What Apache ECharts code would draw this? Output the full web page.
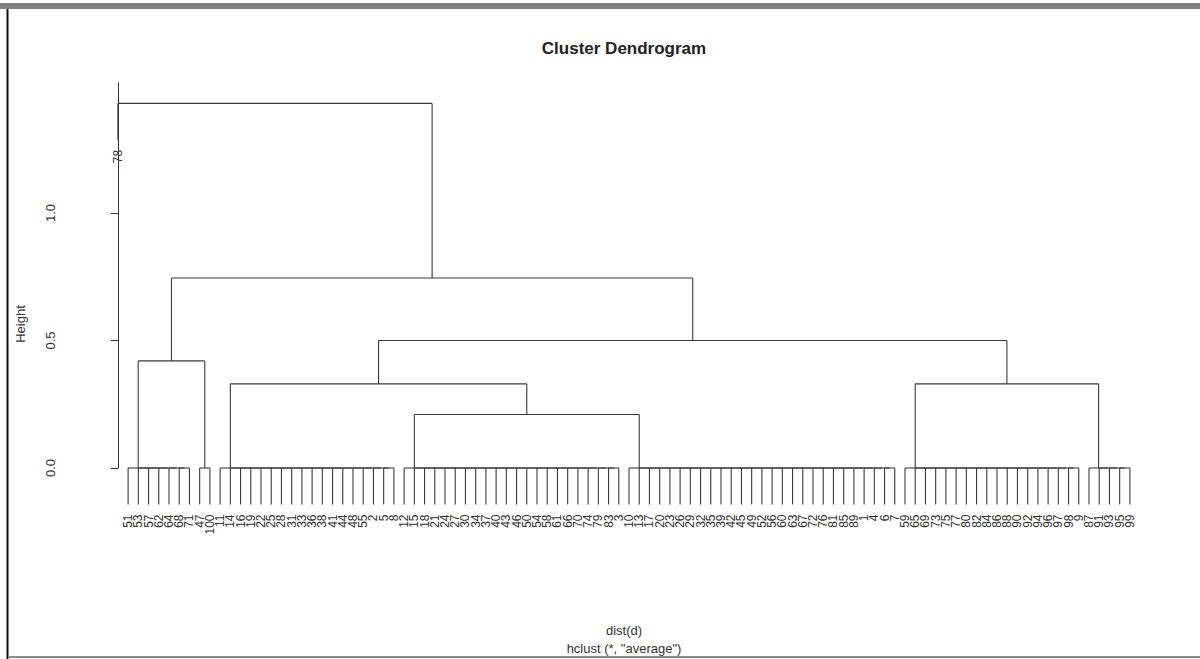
<!DOCTYPE html>
<html><head><meta charset="utf-8">
<script src="https://cdn.jsdelivr.net/npm/echarts@6/dist/echarts.min.js"></script>
<style>html,body{margin:0;padding:0;background:#fff}#c{width:1200px;height:659px}</style>
</head><body><div id="c"></div>
<script>
// Leaf labels in plotted order, grouped by the zero-height clusters
const singleLeaf = ["78"];
const clusterA = ["51","53","57","62","64","68","71"];
const clusterB = ["47","100"];
const clusterC = ["11","14","16","19","22","25","28","31","33","36","38","41","44","48","55","2","5","8"];
const clusterD = ["12","15","18","21","24","27","30","34","37","40","43","46","50","54","58","61","66","70","74","79","83","3"];
const clusterE = ["10","13","17","20","23","26","29","32","35","39","42","45","49","52","56","60","63","67","72","76","81","85","89","1","4","6","7"];
const clusterF = ["59","65","69","73","75","77","80","82","84","86","88","90","92","94","96","97","98","9"];
const clusterG = ["87","91","93","95","99"];
const leafGroups = [singleLeaf, clusterA, clusterB, clusterC, clusterD, clusterE, clusterF, clusterG];
// Upper merges (numbers = group index, "mK" = result of merge K) and their heights
const mergeLeft   = [1, 4, 3, 6, "m2", "m0", 0];
const mergeRight  = [2, 5, "m1", 7, "m3", "m4", "m5"];
const mergeHeight = [0.42, 0.21, 0.33, 0.33, 0.50, 0.745, 1.43];
const yTickValues = [0, 0.5, 1.0];

const FONT = '"Liberation Sans", Arial, sans-serif';
const hang = 0.1 * Math.max(...mergeHeight);
const segments = [];
const labelPts = [];
const groupNodes = [];
let idx = 0;
leafGroups.forEach(g => {
  const start = idx, n = g.length;
  if (n === 1) {
    groupNodes.push({x: start, leaf: true, label: g[0]});
  } else {
    let p = start + n - 1;
    for (let i = n - 2; i >= 0; i--) {
      segments.push([start + i, 0, p, 0]);
      p = (start + i + p) / 2;
    }
    g.forEach((lab, k) => {
      segments.push([start + k, 0, start + k, -hang]);
      labelPts.push([start + k, -hang, lab]);
    });
    groupNodes.push({x: p, h: 0});
  }
  idx += n;
});
const mergeNodes = [];
function getNode(ref) { return typeof ref === 'number' ? groupNodes[ref] : mergeNodes[+ref.slice(1)]; }
mergeHeight.forEach((h, k) => {
  const L = getNode(mergeLeft[k]), R = getNode(mergeRight[k]);
  segments.push([L.x, h, R.x, h]);
  [L, R].forEach(c => {
    const bottom = c.leaf ? h - hang : c.h;
    segments.push([c.x, h, c.x, bottom]);
    if (c.leaf) labelPts.push([c.x, bottom, c.label]);
  });
  mergeNodes.push({x: (L.x + R.x) / 2, h: h});
});

const chart = echarts.init(document.getElementById('c'), null, {renderer: 'svg'});
chart.setOption({
  backgroundColor: '#fff',
  animation: false,
  grid: {left: 77, right: 19, top: 83, bottom: 191, outerBoundsMode: 'none'},
  xAxis: {type: 'value', min: -4, max: 104, show: false},
  yAxis: {
    type: 'value', min: 0, max: 1.51, interval: 0.5,
    axisLine: {show: true, lineStyle: {color: '#333', width: 1}},
    axisTick: {show: true, length: 7, customValues: yTickValues, lineStyle: {color: '#333'}},
    axisLabel: {customValues: yTickValues, rotate: 90, margin: 20, fontSize: 13, color: '#333', fontFamily: FONT,
      formatter: v => (v > 1.2 ? '' : v.toFixed(1))},
    splitLine: {show: false}
  },
  series: [
    {
      type: 'custom', coordinateSystem: 'cartesian2d', clip: false, silent: true,
      encode: {x: [0, 2], y: [1, 3]},
      data: segments,
      renderItem: (params, api) => {
        const a = api.coord([api.value(0), api.value(1)]);
        const b = api.coord([api.value(2), api.value(3)]);
        return {type: 'line', shape: {x1: a[0], y1: a[1], x2: b[0], y2: b[1]},
          style: {stroke: '#3a3a3a', lineWidth: 1.1}};
      }
    },
    {
      type: 'custom', coordinateSystem: 'cartesian2d', clip: false, silent: true,
      encode: {x: 0, y: 1},
      data: labelPts,
      renderItem: (params, api) => {
        const p = api.coord([api.value(0), api.value(1)]);
        const lab = labelPts[params.dataIndex][2];
        return {type: 'text', x: p[0], y: p[1] + 10, rotation: Math.PI / 2,
          style: {text: lab, align: 'right', verticalAlign: 'middle', textAlign: 'right', textVerticalAlign: 'middle',
            fontSize: 12, fontFamily: FONT, fill: '#333'}};
      }
    }
  ],
  graphic: [
    {type: 'rect', shape: {x: 0, y: 3, width: 1200, height: 6}, style: {fill: '#808080'}},
    {type: 'line', shape: {x1: 7.5, y1: 9, x2: 7.5, y2: 659}, style: {stroke: '#111', lineWidth: 2}},
    {type: 'line', shape: {x1: 8, y1: 657, x2: 1200, y2: 657}, style: {stroke: '#8a8a8a', lineWidth: 2}},
    {type: 'text', x: 624, y: 48, style: {text: 'Cluster Dendrogram', font: 'bold 17px ' + FONT, fill: '#222',
      align: 'center', verticalAlign: 'middle', textAlign: 'center', textVerticalAlign: 'middle'}},
    {type: 'text', x: 20, y: 324, rotation: Math.PI / 2, style: {text: 'Height', font: '13px ' + FONT, fill: '#333',
      align: 'center', verticalAlign: 'middle', textAlign: 'center', textVerticalAlign: 'middle'}},
    {type: 'text', x: 624, y: 630, style: {text: 'dist(d)', font: '13px ' + FONT, fill: '#333',
      align: 'center', verticalAlign: 'middle', textAlign: 'center', textVerticalAlign: 'middle'}},
    {type: 'text', x: 624, y: 648, style: {text: 'hclust (*, "average")', font: '13px ' + FONT, fill: '#333',
      align: 'center', verticalAlign: 'middle', textAlign: 'center', textVerticalAlign: 'middle'}}
  ]
});
</script></body></html>
